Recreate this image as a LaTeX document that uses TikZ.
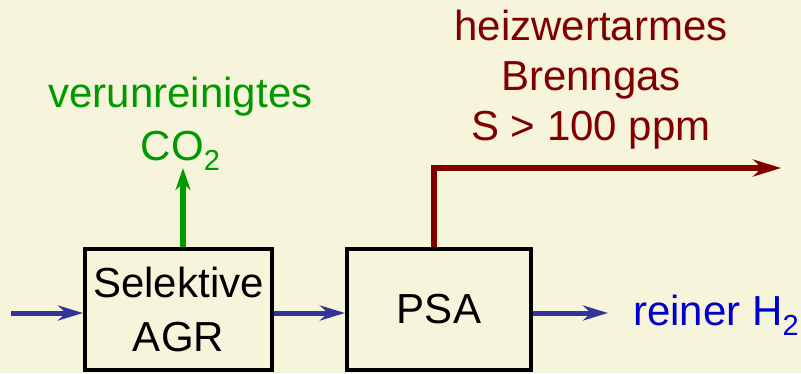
\documentclass[tikz,border=0pt]{standalone}
\usepackage{fontspec}
\setmainfont{Liberation Sans}
\usetikzlibrary{arrows.meta}
\definecolor{bg}{RGB}{246,244,218}
\definecolor{flowblue}{RGB}{51,51,153}
\definecolor{labelblue}{RGB}{0,0,204}
\definecolor{gasgreen}{RGB}{0,153,0}
\definecolor{darkred}{RGB}{128,0,0}
% lowered, smaller index digit
\newcommand{\lowidx}[1]{\raisebox{-0.24em}{\fontsize{29}{29}\selectfont #1}}
\begin{document}
\begin{tikzpicture}[x=1pt,y=-1pt,
  big/.style={font=\fontsize{42}{54}\selectfont, inner sep=0pt},
  unit/.style={big, draw=black, line width=4pt, align=center},
  flow/.style={draw=flowblue, line width=5pt,
    -{Stealth[length=25pt, width=15pt, inset=8pt]}},
  co2flow/.style={draw=gasgreen, line width=5.5pt,
    -{Stealth[length=22pt, width=15pt, inset=7pt]}},
  gasflow/.style={draw=darkred, line width=5.5pt,
    -{Stealth[length=28pt, width=17pt, inset=9pt]}}]
\fill[bg] (0,0) rectangle (801,373);
\useasboundingbox (0,0) rectangle (801,373);

% process units
\node[unit, minimum width=187, minimum height=121] (agr) at (178.5,309.5) {Selektive\\AGR};
\node[unit, minimum width=184, minimum height=121] (psa) at (439,309.5) {PSA};

% product labels (base anchor sits on the last line)
\node[big, text=gasgreen, align=center, anchor=base,
  font=\fontsize{42}{53}\selectfont] (co2lbl) at (180.5,160)
  {verunreinigtes\\CO\lowidx{2}};
\node[big, text=darkred, align=center, anchor=base,
  font=\fontsize{42}{50}\selectfont] (gaslbl) at (591,140)
  {heizwertarmes\\Brenngas\\S > 100 ppm};
\node[big, text=labelblue, anchor=base west] (h2lbl) at (633,325) {reiner H\lowidx{2}};

% stream end points
\coordinate (feed) at (11,313);
\coordinate (co2tip) at (183,168);
\coordinate (gastip) at (781,168);
\coordinate (h2tip) at (608,313);

% streams
\draw[flow] (feed) -- (feed -| agr.west);
\draw[flow] (feed -| agr.east) -- (feed -| psa.west);
\draw[flow] (h2tip -| psa.east) -- (h2tip);
\draw[co2flow] (co2tip |- agr.north) -- (co2tip);
\draw[gasflow] ([xshift=-5pt]psa.north) |- (gastip);
\end{tikzpicture}
\end{document}
